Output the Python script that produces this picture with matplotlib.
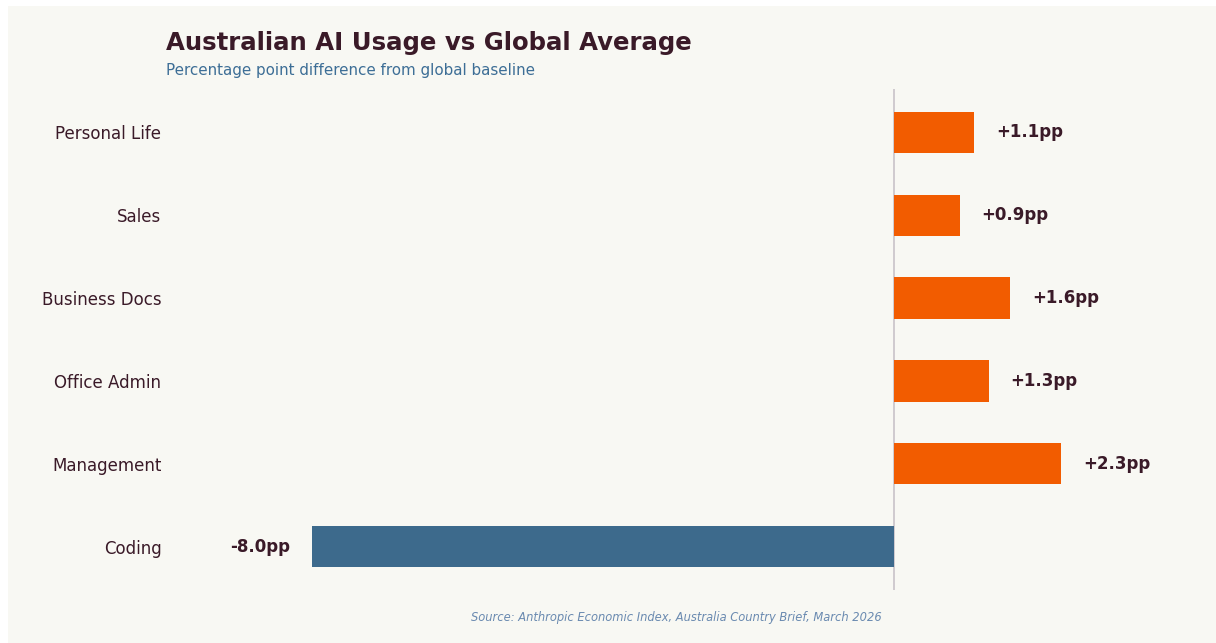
import matplotlib
matplotlib.use('Agg')
import matplotlib.pyplot as plt
from matplotlib.patches import Rectangle

plt.rcParams['font.family'] = ['DejaVu Sans']

# Difference from the global average, in percentage points
categories = ['Coding', 'Management', 'Office Admin', 'Business Docs', 'Sales', 'Personal Life']
diffs = [-8.0, 2.3, 1.3, 1.6, 0.9, 1.1]

dark = '#3a1a28'
pos_color = '#f25c00'
neg_color = '#3d6a8c'

fig = plt.figure(figsize=(12.16, 6.43), dpi=100, facecolor='white')
fig.patches.append(Rectangle((8 / 1216, 0), 1, 1 - 6 / 643, transform=fig.transFigure,
                             facecolor='#f8f8f3', edgecolor='none', zorder=-1))

ax = fig.add_axes([167 / 1216, 1 - 590 / 643, 1018 / 1216, 501 / 643])
ax.set_facecolor('none')

colors = [pos_color if d > 0 else neg_color for d in diffs]
ax.barh(categories, diffs, height=0.5, color=colors)
ax.axvline(0, color='#c9c3c8', linewidth=1.2, zorder=0)

for i, d in enumerate(diffs):
    if d > 0:
        ax.text(d + 0.3, i, f'+{d:.1f}pp', va='center', ha='left',
                fontsize=12, fontweight='bold', color=dark)
    else:
        ax.text(d - 0.3, i, f'{d:.1f}pp', va='center', ha='right',
                fontsize=12, fontweight='bold', color=dark)

ax.set_xlim(-10, 4)
ax.set_xticks([])
ax.tick_params(axis='y', length=0, pad=4, labelsize=12, labelcolor=dark)
for s in ax.spines.values():
    s.set_visible(False)

fig.text(166 / 1216, 1 - 43 / 643, 'Australian AI Usage vs Global Average',
         fontsize=17.6, fontweight='bold', color=dark, va='center', ha='left')
fig.text(166 / 1216, 1 - 70 / 643, 'Percentage point difference from global baseline',
         fontsize=10.9, color='#3d6e96', va='center', ha='left')
fig.text(676 / 1216, 1 - 617 / 643,
         'Source: Anthropic Economic Index, Australia Country Brief, March 2026',
         fontsize=8.3, style='italic', color='#6a8ab0', va='center', ha='center')

fig.savefig('out.png', dpi=100)
